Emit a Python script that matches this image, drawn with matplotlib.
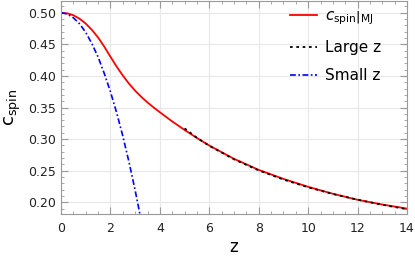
import matplotlib
matplotlib.use("Agg")
import matplotlib.pyplot as plt
from matplotlib.ticker import MultipleLocator, FormatStrFormatter

# values
z_mj = [0, 0.25, 0.5, 0.75, 1.0, 1.25, 1.5, 1.75, 2.0, 2.25, 2.5, 2.75, 3.0,
        3.25, 3.5, 3.75, 4.0, 4.5, 5.0, 5.5, 6.0, 7.0, 8.0, 9.0, 10.0, 11.0,
        12.0, 13.0, 14.0]
c_mj = [0.5000, 0.4990, 0.4960, 0.4905, 0.4828, 0.4728, 0.4608, 0.4463,
        0.4303, 0.4148, 0.4006, 0.3878, 0.3766, 0.3668, 0.3580, 0.3500,
        0.3425, 0.3280, 0.3145, 0.3018, 0.2898, 0.2688, 0.2513, 0.2370,
        0.2245, 0.2135, 0.2040, 0.1965, 0.1900]

z_large = [5, 5.5, 6, 7, 8, 9, 10, 11, 12, 13, 14]
c_large = [0.3170, 0.3020, 0.2895, 0.2680, 0.2505, 0.2360, 0.2237, 0.2132,
           0.2041, 0.1961, 0.1890]

z_small = [0, 0.25, 0.5, 0.75, 1.0, 1.25, 1.5, 1.75, 2.0, 2.25, 2.5, 2.75, 3.0, 3.2]
c_small = [0.500, 0.498, 0.492, 0.4825, 0.469, 0.451, 0.430, 0.404, 0.375,
           0.342, 0.305, 0.264, 0.219, 0.180]

labels = [r'$\left.c_{\rm spin}\right|_{\rm MJ}$', 'Large z', 'Small z']

plt.rcParams['font.family'] = ['DejaVu Sans']
plt.rcParams['mathtext.fontset'] = 'dejavusans'

fig = plt.figure(figsize=(4.15, 2.6), dpi=100)
ax = fig.add_axes([61 / 415, 46 / 260, 346 / 415, 213.5 / 260])

frame = '#999999'
ax.grid(True, color='#e8e8e8', linewidth=0.8)
ax.set_axisbelow(True)

ax.plot(z_mj, c_mj, color='#ff0000', linewidth=1.3, label=labels[0])
ax.plot(z_large, c_large, color='black', linewidth=1.3,
        linestyle=(0, (1.5, 2.0)), label=labels[1])
ax.plot(z_small, c_small, color='#0000ff', linewidth=1.2,
        linestyle=(0, (3.5, 1.5, 1.0, 1.5)), label=labels[2])

ax.set_xlim(0, 14)
ax.set_ylim(0.1815, 0.5193)

ax.xaxis.set_major_locator(MultipleLocator(2))
ax.xaxis.set_minor_locator(MultipleLocator(0.5))
ax.yaxis.set_major_locator(MultipleLocator(0.05))
ax.yaxis.set_minor_locator(MultipleLocator(0.01))
ax.yaxis.set_major_formatter(FormatStrFormatter('%.2f'))

ax.tick_params(which='both', direction='in', top=True, right=True,
               color=frame, labelsize=9, labelcolor='#222222')
ax.tick_params(which='major', length=5, width=0.8)
ax.tick_params(which='minor', length=2.5, width=0.6)
ax.tick_params(axis='x', pad=6)
for sp in ax.spines.values():
    sp.set_color(frame)
    sp.set_linewidth(0.8)

ax.set_xlabel('z', fontsize=12, labelpad=2)
ax.set_ylabel(r'$\mathrm{c}_{\mathrm{spin}}$', fontsize=13, labelpad=4)

ax.legend(loc='upper left', bbox_to_anchor=(0.648, 0.985), frameon=False,
          fontsize=11, handlelength=1.8, handletextpad=0.5,
          labelspacing=0.85, borderpad=0.3, borderaxespad=0)

fig.savefig('out.png', dpi=100)
